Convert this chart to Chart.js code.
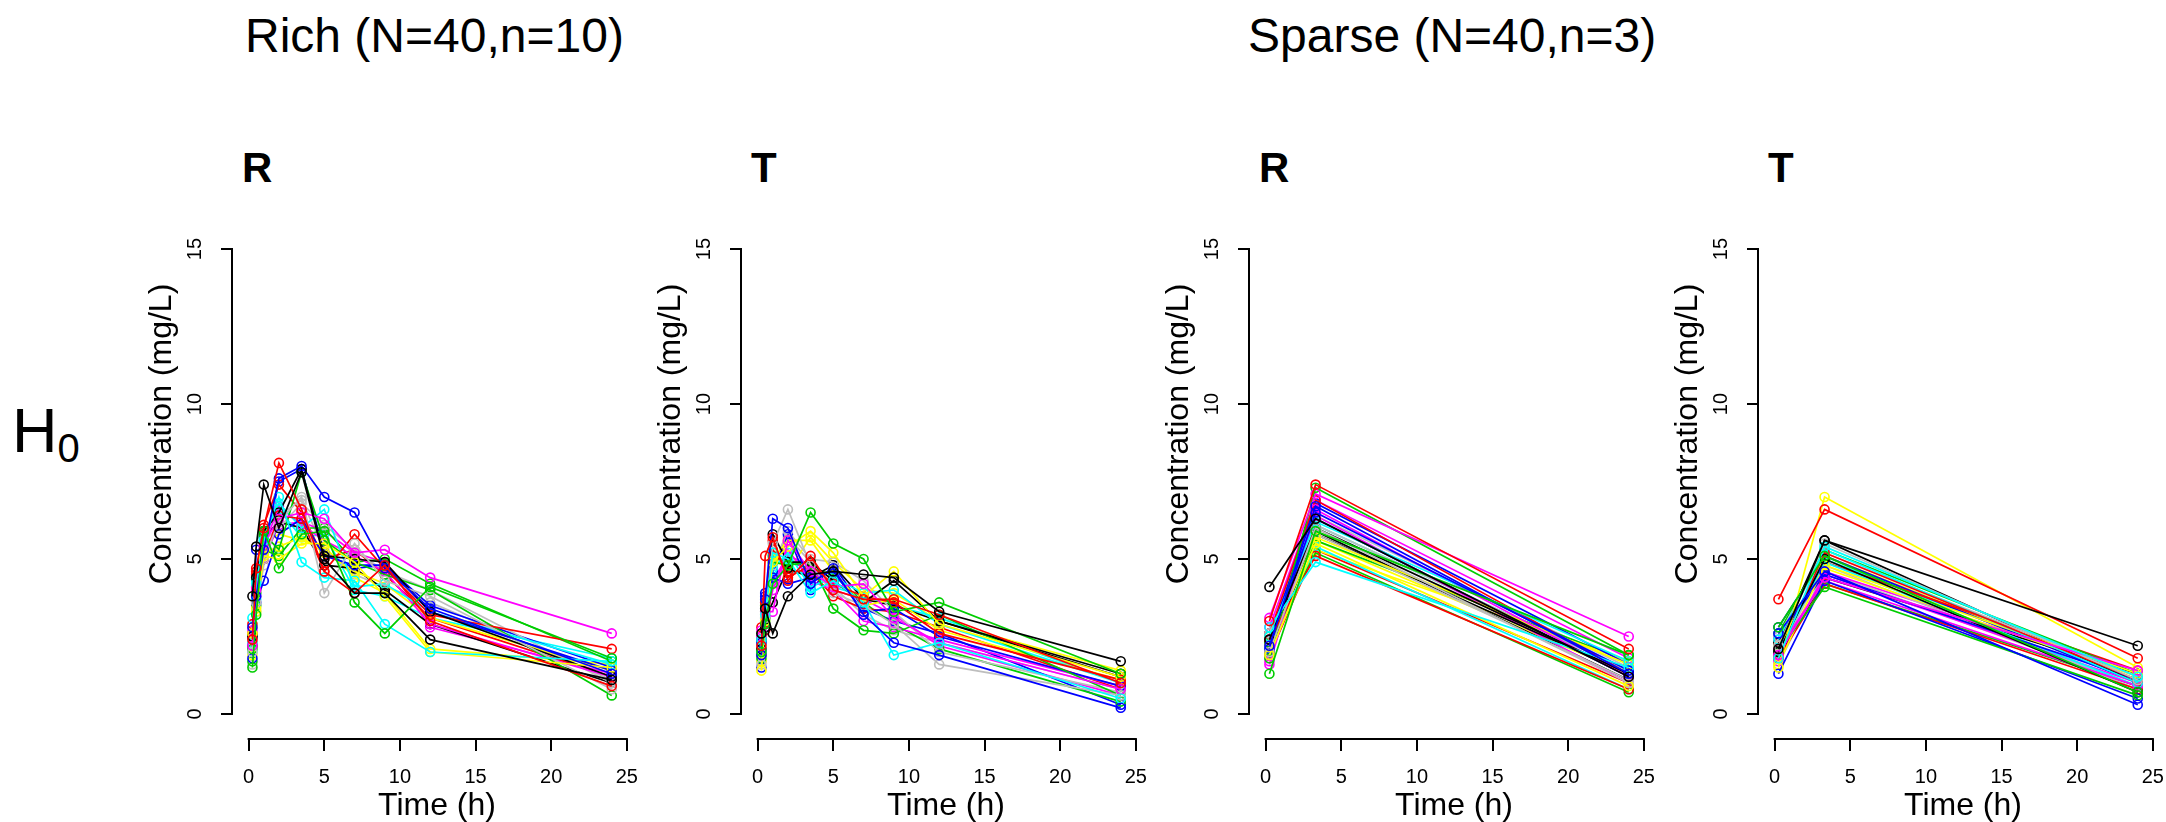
<!DOCTYPE html>
<html>
<head>
<meta charset="utf-8">
<script src="https://cdn.jsdelivr.net/npm/chart.js@4.4.1/dist/chart.umd.min.js"></script>
<style>
  body { margin: 0; width: 2166px; height: 822px; overflow: hidden; background: #fff; position: relative;
         font-family: "Liberation Sans", Arial, sans-serif; color: #000; }
  canvas { position: absolute; top: 0; }
  .txt { position: absolute; white-space: nowrap; line-height: 1; }
  .group { font-size: 48px; top: 12px; }
  .panel { font-size: 42px; font-weight: bold; top: 147px; }
  .hyp { font-size: 63px; left: 12px; top: 399px; }
  .hyp span { font-size: 40px; position: relative; top: 10px; }
</style>
</head>
<body>
<div class="txt group" style="left:245px">Rich (N=40,n=10)</div>
<div class="txt group" style="left:1248px">Sparse (N=40,n=3)</div>
<div class="txt hyp">H<span>0</span></div>
<div class="txt panel" style="left:242px">R</div>
<div class="txt panel" style="left:751px">T</div>
<div class="txt panel" style="left:1259px">R</div>
<div class="txt panel" style="left:1768px">T</div>

<canvas id="richRef" width="534" height="830" style="left:128px"></canvas>
<canvas id="richTest" width="534" height="830" style="left:637px"></canvas>
<canvas id="sparseRef" width="534" height="830" style="left:1145px"></canvas>
<canvas id="sparseTest" width="534" height="830" style="left:1654px"></canvas>

<script>
// sampling times (h)
var richTimes = [0.25, 0.5, 1, 2, 3.5, 5, 7, 9, 12, 24];
var sparseTimes = [0.25, 3.3, 24];

var xTickValues = [0, 5, 10, 15, 20, 25];
var yTickValues = [0, 5, 10, 15];

// R default palette, subject i gets colour i % 8
var subjectColors = ['#000000', '#FF0000', '#00CD00', '#0000FF', '#00FFFF', '#FF00FF', '#FFFF00', '#BEBEBE'];

// rich design, reference (mg/L)
var richRefConc = [
  [3.8, 5.4, 7.4, 6.0, 7.8, 5.0, 3.9, 3.9, 2.4, 1.1],
  [2.4, 4.7, 6.0, 8.1, 6.6, 4.6, 3.9, 4.8, 3.0, 0.9],
  [1.5, 3.2, 5.9, 4.7, 5.8, 5.9, 3.6, 2.6, 4.1, 1.8],
  [2.8, 3.8, 5.3, 7.6, 8.0, 7.0, 6.5, 4.7, 3.4, 1.3],
  [3.1, 4.2, 5.6, 7.0, 4.9, 4.4, 4.3, 2.9, 2.0, 1.7],
  [2.2, 4.0, 5.5, 6.3, 6.5, 6.3, 5.2, 5.3, 4.4, 2.6],
  [2.6, 3.3, 5.1, 5.0, 5.5, 5.5, 4.9, 3.8, 2.0, 1.5],
  [2.0, 3.6, 5.0, 6.2, 7.0, 3.9, 5.5, 4.3, 3.8, 0.8],
  [2.5, 4.4, 5.9, 6.5, 7.9, 5.1, 5.0, 4.9, 3.3, 1.2],
  [2.9, 4.6, 5.0, 6.4, 6.3, 4.6, 5.8, 4.7, 3.2, 2.1],
  [2.1, 3.9, 5.8, 5.3, 7.8, 5.6, 4.9, 4.5, 4.0, 0.6],
  [1.8, 3.6, 4.3, 5.8, 6.3, 5.1, 4.8, 4.8, 3.3, 1.4],
  [2.3, 4.3, 5.7, 6.8, 6.0, 6.6, 4.1, 4.2, 3.3, 1.6],
  [2.7, 4.1, 5.4, 6.7, 6.1, 5.6, 5.1, 4.6, 2.9, 1.2],
  [1.9, 3.4, 5.2, 5.4, 5.7, 5.2, 4.6, 4.2, 3.1, 1.4],
  [2.4, 3.9, 5.6, 6.0, 6.8, 6.1, 5.3, 4.6, 4.0, 1.0],
  [2.2, 4.1, 5.7, 6.2, 6.0, 4.8, 4.7, 4.0, 2.9, 1.0],
  [2.6, 4.5, 6.1, 7.4, 6.5, 5.0, 5.3, 4.5, 3.1, 1.2],
  [1.7, 3.5, 5.3, 5.1, 6.0, 6.0, 4.9, 5.0, 4.2, 1.7],
  [2.5, 5.3, 5.2, 7.5, 7.9, 5.2, 4.7, 4.8, 3.5, 1.5],
  [2.0, 3.7, 5.9, 6.6, 5.7, 5.8, 4.0, 3.8, 3.1, 1.8],
  [2.3, 3.8, 5.0, 6.1, 6.2, 5.9, 5.2, 4.9, 2.8, 1.3],
  [2.8, 4.0, 5.5, 5.8, 5.6, 5.4, 4.4, 3.9, 2.1, 1.6],
  [1.6, 3.3, 4.8, 6.4, 6.9, 5.3, 4.5, 4.1, 3.6, 1.1]
];

// rich design, test (mg/L)
var richTestConc = [
  [2.6, 3.4, 2.6, 3.8, 4.5, 4.6, 4.5, 4.4, 3.3, 1.7],
  [2.2, 5.1, 5.7, 4.3, 5.1, 4.0, 3.7, 3.7, 3.2, 1.0],
  [2.0, 2.9, 4.2, 4.8, 6.5, 5.5, 5.0, 3.3, 3.6, 1.3],
  [1.9, 3.7, 6.3, 6.0, 4.2, 4.7, 3.2, 2.3, 1.9, 0.2],
  [2.4, 3.2, 5.2, 5.0, 3.9, 4.3, 3.6, 1.9, 2.3, 0.5],
  [2.7, 3.3, 3.3, 5.6, 4.6, 4.1, 4.2, 3.1, 2.3, 0.8],
  [1.4, 3.0, 4.9, 5.4, 5.9, 5.2, 3.8, 4.6, 2.9, 1.2],
  [1.6, 3.1, 5.5, 6.6, 4.8, 3.9, 3.5, 2.9, 1.6, 0.6],
  [2.1, 2.8, 5.8, 4.9, 4.9, 4.3, 3.6, 4.3, 3.0, 1.3],
  [2.8, 3.6, 5.6, 4.4, 4.8, 4.2, 3.8, 3.6, 2.6, 1.1],
  [1.8, 3.5, 4.9, 4.8, 4.9, 3.4, 2.7, 2.6, 3.2, 0.6],
  [2.3, 3.8, 4.4, 4.2, 4.4, 4.6, 3.3, 3.4, 2.5, 0.9],
  [2.0, 3.0, 4.7, 5.2, 4.1, 4.4, 3.9, 4.0, 2.9, 1.0],
  [2.5, 2.9, 4.0, 5.3, 4.3, 4.0, 3.0, 2.8, 2.4, 0.9],
  [1.7, 3.2, 5.0, 5.6, 5.6, 4.6, 3.5, 3.7, 2.7, 1.1],
  [2.2, 3.4, 4.8, 5.9, 5.0, 4.9, 4.3, 3.3, 2.0, 0.7],
  [2.4, 3.1, 3.6, 4.7, 4.4, 4.8, 3.7, 3.5, 3.0, 1.2],
  [1.9, 2.7, 5.3, 4.6, 4.6, 3.8, 3.4, 3.3, 2.8, 0.8],
  [2.6, 3.3, 5.1, 4.9, 4.7, 4.5, 3.6, 2.9, 2.1, 0.4],
  [1.5, 3.9, 4.6, 5.8, 4.0, 4.8, 3.4, 3.0, 2.6, 0.3],
  [2.3, 2.8, 4.5, 4.6, 4.5, 4.1, 3.8, 3.5, 3.1, 1.0],
  [2.0, 3.6, 4.3, 5.1, 4.8, 4.0, 3.7, 3.2, 2.2, 0.6],
  [2.5, 3.5, 5.2, 4.6, 5.7, 4.9, 4.0, 3.9, 3.0, 1.4],
  [1.7, 3.0, 4.6, 5.7, 4.9, 4.1, 3.2, 2.7, 2.3, 0.8]
];

// sparse design, reference (mg/L)
var sparseRefConc = [
  [4.1, 6.3, 1.2], [3.0, 7.4, 2.1], [1.3, 5.9, 1.9], [2.2, 6.7, 1.3],
  [2.8, 4.9, 1.5], [3.1, 7.1, 2.5], [1.9, 5.5, 0.9], [2.0, 6.0, 1.0],
  [2.4, 6.0, 1.3], [2.4, 5.1, 0.8], [1.8, 7.3, 1.9], [2.1, 6.5, 1.4],
  [2.5, 6.2, 1.7], [1.6, 6.6, 1.2], [2.2, 5.7, 1.6], [2.6, 5.8, 1.1],
  [2.0, 5.8, 1.3], [2.6, 6.9, 1.3], [2.3, 5.2, 0.7], [2.4, 6.8, 1.6],
  [2.1, 5.4, 0.8], [1.7, 6.4, 1.0], [2.0, 5.3, 1.7], [1.8, 6.1, 1.4],
  [2.3, 5.9, 1.1], [1.9, 5.3, 1.0], [2.5, 5.6, 1.7], [2.6, 6.3, 1.2],
  [1.9, 6.1, 1.4], [2.8, 6.9, 1.8], [2.3, 5.6, 1.3], [2.1, 6.4, 1.5]
];

// sparse design, test (mg/L)
var sparseTestConc = [
  [2.1, 5.6, 2.2], [3.7, 6.6, 1.8], [2.8, 5.1, 0.7], [2.6, 4.6, 0.3],
  [1.8, 5.4, 1.2], [1.9, 4.4, 1.4], [1.5, 7.0, 1.5], [2.2, 5.5, 1.1],
  [2.0, 5.0, 0.7], [1.9, 5.2, 1.1], [2.0, 4.1, 0.6], [1.3, 4.3, 0.5],
  [2.4, 5.3, 1.0], [2.1, 4.3, 0.9], [1.6, 4.8, 1.3], [2.5, 5.2, 1.2],
  [2.3, 5.6, 1.0], [1.8, 4.2, 0.8], [2.6, 5.3, 1.3], [2.5, 4.5, 1.1],
  [2.0, 4.9, 0.9], [1.7, 4.5, 1.0], [2.2, 4.7, 1.2], [1.9, 4.8, 0.8],
  [1.8, 4.4, 1.3], [2.3, 4.9, 1.4], [2.1, 4.2, 0.9], [2.8, 5.1, 1.0],
  [2.2, 5.0, 1.1], [2.4, 4.6, 1.3], [2.0, 5.1, 1.1], [1.6, 4.6, 0.9]
];

Chart.defaults.font.family = '"Liberation Sans", Arial, sans-serif';
Chart.defaults.color = '#000';

// R style axes: line only from first to last tick
var rAxes = {
  id: 'rAxes',
  afterDraw: function(chart) {
    var ctx = chart.ctx, area = chart.chartArea, x = chart.scales.x, y = chart.scales.y;
    ctx.save();
    ctx.strokeStyle = '#000';
    ctx.lineWidth = 2;
    ctx.beginPath();
    ctx.moveTo(area.left, y.getPixelForValue(yTickValues[0]) + 1);
    ctx.lineTo(area.left, y.getPixelForValue(yTickValues[yTickValues.length - 1]) - 1);
    ctx.moveTo(x.getPixelForValue(xTickValues[0]) - 1, area.bottom);
    ctx.lineTo(x.getPixelForValue(xTickValues[xTickValues.length - 1]) + 1, area.bottom);
    ctx.stroke();
    ctx.restore();
  }
};

function makeDatasets(times, conc) {
    return conc.map(function(row, i) {
        var col = subjectColors[i % subjectColors.length];
        return {
            data: row.map(function(v, j) { return { x: times[j], y: v }; }),
            showLine: true,
            borderColor: col,
            borderWidth: 1.7,
            pointRadius: 4.5,
            pointBorderWidth: 1.6,
            pointBorderColor: col,
            pointBackgroundColor: 'rgba(0,0,0,0)'
        };
    });
}

function makeChart(id, times, conc) {
    return new Chart(document.getElementById(id), {
        type: 'scatter',
        data: { datasets: makeDatasets(times, conc) },
        options: {
            responsive: false,
            animation: false,
            layout: { padding: { left: 10, right: 20, top: 129, bottom: 1 } },
            plugins: {
                legend: { display: false },
                tooltip: { enabled: false }
            },
            scales: {
                x: {
                    type: 'linear',
                    min: -1.1,
                    max: 26,
                    afterBuildTicks: function(s) { s.ticks = xTickValues.map(function(v) { return { value: v }; }); },
                    afterFit: function(s) { s.height = 90; },
                    border: { display: false },
                    grid: { drawOnChartArea: false, drawTicks: true, tickLength: 12, color: '#000', lineWidth: 2 },
                    ticks: { autoSkip: false, maxRotation: 0, padding: 14, font: { size: 20 }, color: '#000' },
                    title: { display: true, text: 'Time (h)', font: { size: 32 }, color: '#000', padding: { top: 0, bottom: 4 } }
                },
                y: {
                    type: 'linear',
                    min: -0.806,
                    max: 18.871,
                    afterBuildTicks: function(s) { s.ticks = yTickValues.map(function(v) { return { value: v }; }); },
                    afterFit: function(s) { s.width = 94; },
                    border: { display: false },
                    grid: { drawOnChartArea: false, drawTicks: true, tickLength: 11, color: '#000', lineWidth: 2 },
                    ticks: { autoSkip: false, minRotation: 90, maxRotation: 90, crossAlign: 'center', padding: 14, font: { size: 20 }, color: '#000' },
                    title: { display: true, text: 'Concentration (mg/L)', font: { size: 32 }, color: '#000', padding: { top: 5, bottom: 0 } }
                }
            }
        },
        plugins: [rAxes]
    });
}

makeChart('richRef', richTimes, richRefConc);
makeChart('richTest', richTimes, richTestConc);
makeChart('sparseRef', sparseTimes, sparseRefConc);
makeChart('sparseTest', sparseTimes, sparseTestConc);
</script>
</body>
</html>
